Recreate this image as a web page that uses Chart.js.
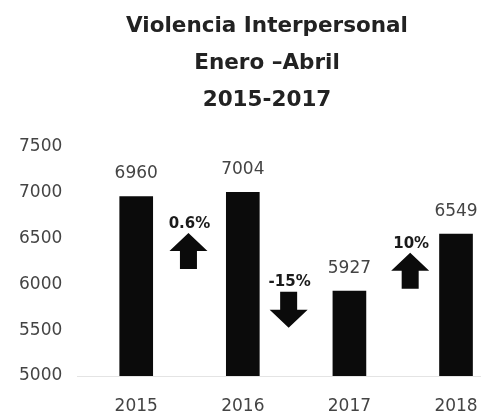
<!DOCTYPE html>
<html>
<head>
<meta charset="utf-8">
<script src="https://cdn.jsdelivr.net/npm/chart.js@4.4.1/dist/chart.umd.min.js"></script>
<style>
    html, body { margin: 0; padding: 0; background: #fff; }
    #wrap { width: 486px; height: 419px; }
</style>
</head>
<body>
<div id="wrap"><canvas id="chart"></canvas></div>
<script>
const years = ['2015', '2016', '2017', '2018'];
const totals = [6960, 7004, 5927, 6549];
const changeLabels = ['0.6%', '-15%', '10%'];
const yTicks = [5000, 5500, 6000, 6500, 7000, 7500];
const titleLines = ['Violencia Interpersonal', 'Enero \u2013Abril', '2015-2017'];

// numbers printed above each bar
const valueLabels = {
    id: 'valueLabels',
    afterDatasetsDraw(chart) {
        const ctx = chart.ctx;
        const meta = chart.getDatasetMeta(0);
        ctx.save();
        ctx.font = '17px "DejaVu Sans"';
        ctx.fillStyle = '#444';
        ctx.textAlign = 'center';
        ctx.textBaseline = 'middle';
        meta.data.forEach((bar, i) => {
            ctx.fillText(String(totals[i]), bar.x, bar.y - 23);
        });
        ctx.restore();
    }
};

// up / down arrows with the change between two years
const changeArrows = {
    id: 'changeArrows',
    afterDatasetsDraw(chart, args, opts) {
        const ctx = chart.ctx;
        const xs = chart.scales.x;
        const ys = chart.scales.y;
        ctx.save();
        changeLabels.forEach((label, i) => {
            const up = totals[i + 1] >= totals[i];
            const pos = opts.anchors[i];
            const cx = xs.getPixelForValue(pos.x);
            const top = ys.getPixelForValue(pos.y);
            const h = 36, headH = 18, headW = 19, shaftW = 8.5;

            ctx.fillStyle = '#0b0b0b';
            ctx.beginPath();
            if (up) {
                ctx.moveTo(cx, top);
                ctx.lineTo(cx + headW, top + headH);
                ctx.lineTo(cx + shaftW, top + headH);
                ctx.lineTo(cx + shaftW, top + h);
                ctx.lineTo(cx - shaftW, top + h);
                ctx.lineTo(cx - shaftW, top + headH);
                ctx.lineTo(cx - headW, top + headH);
            } else {
                ctx.moveTo(cx - shaftW, top);
                ctx.lineTo(cx + shaftW, top);
                ctx.lineTo(cx + shaftW, top + h - headH);
                ctx.lineTo(cx + headW, top + h - headH);
                ctx.lineTo(cx, top + h);
                ctx.lineTo(cx - headW, top + h - headH);
                ctx.lineTo(cx - shaftW, top + h - headH);
            }
            ctx.closePath();
            ctx.fill();

            ctx.font = 'bold 15px "DejaVu Sans"';
            ctx.fillStyle = '#1a1a1a';
            ctx.textAlign = 'center';
            ctx.textBaseline = 'middle';
            ctx.fillText(label, cx + 1, top - (up ? 9 : 10));
        });
        ctx.restore();
    }
};

// title sits a little right of the canvas centre
const titleShift = {
    id: 'titleShift',
    afterLayout(chart, args, opts) {
        if (chart.titleBlock) {
            chart.titleBlock.left += opts.offset;
        }
    }
};

const config = {
    type: 'bar',
    data: {
        datasets: [{
            data: totals.map((v, i) => ({ x: i, y: v })),
            backgroundColor: '#0b0b0b',
            borderWidth: 0,
            barThickness: 33,
        }]
    },
    options: {
        responsive: true,
        maintainAspectRatio: false,
        animation: false,
        layout: {
            padding: { left: 4, right: 6, top: 0, bottom: 0 }
        },
        scales: {
            x: {
                type: 'linear',
                offset: false,
                min: -0.553,
                max: 3.225,
                afterBuildTicks: (scale) => {
                    scale.ticks = years.map((_, i) => ({ value: i }));
                },
                afterFit: (scale) => {
                    scale.height = 43;
                    scale.paddingLeft = 0;
                    scale.paddingRight = 0;
                },
                grid: { display: false, drawTicks: false },
                border: { display: true, color: '#e4e4e4', width: 1 },
                ticks: {
                    padding: 20,
                    color: '#444',
                    font: { family: 'DejaVu Sans', size: 17 },
                    callback: (value) => years[value],
                }
            },
            y: {
                min: yTicks[0],
                max: yTicks[yTicks.length - 1],
                afterBuildTicks: (scale) => {
                    scale.ticks = yTicks.map(v => ({ value: v }));
                },
                grid: { display: false, drawTicks: false },
                border: { display: false },
                ticks: {
                    padding: 15,
                    color: '#444',
                    font: { family: 'DejaVu Sans', size: 17 },
                    callback: (value) => String(value),
                }
            }
        },
        plugins: {
            legend: { display: false },
            tooltip: { enabled: false },
            title: {
                display: true,
                text: titleLines,
                color: '#222',
                font: { family: 'DejaVu Sans', size: 21.5, weight: 'bold', lineHeight: 37 / 21.5 },
                padding: { top: 7.5, bottom: 28.5 },
            },
            titleShift: { offset: 50 },
            changeArrows: {
                anchors: [
                    { x: 0.49, y: 6560 },
                    { x: 1.43, y: 5920 },
                    { x: 2.57, y: 6345 },
                ]
            }
        }
    },
    plugins: [titleShift, valueLabels, changeArrows]
};

new Chart(document.getElementById('chart'), config);
</script>
</body>
</html>
